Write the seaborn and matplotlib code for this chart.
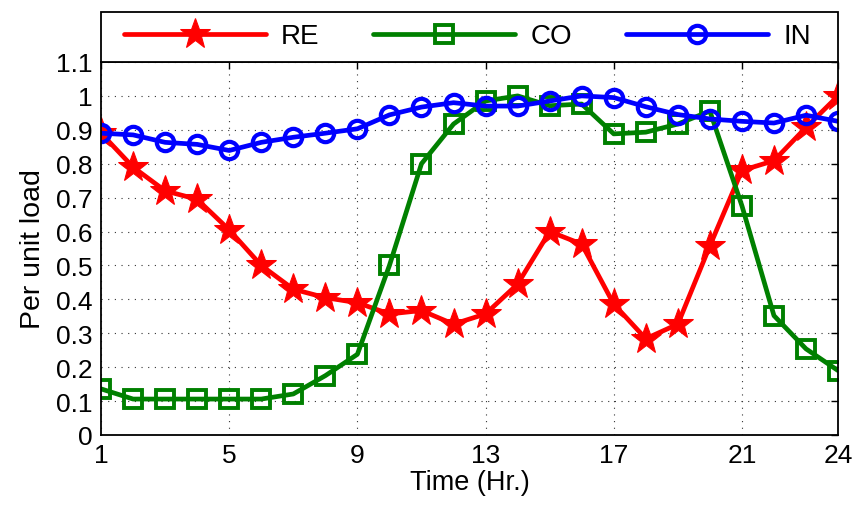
import numpy as np
import pandas as pd
import seaborn as sns
import matplotlib
matplotlib.use("Agg")
import matplotlib.pyplot as plt
from matplotlib import font_manager
from matplotlib.patches import Rectangle

hours = list(range(1, 25))
re_load = [0.89, 0.79, 0.72, 0.695, 0.605, 0.50, 0.43, 0.405, 0.39, 0.357, 0.367, 0.327,
           0.357, 0.445, 0.60, 0.563, 0.386, 0.284, 0.327, 0.558, 0.78, 0.809, 0.907, 1.0]
co_load = [0.136, 0.106, 0.106, 0.106, 0.106, 0.106, 0.121, 0.175, 0.238, 0.50, 0.80, 0.917,
           0.985, 1.0, 0.971, 0.976, 0.888, 0.893, 0.917, 0.955, 0.676, 0.352, 0.254, 0.19]
in_load = [0.89, 0.885, 0.863, 0.857, 0.839, 0.863, 0.878, 0.89, 0.903, 0.944, 0.967, 0.98,
           0.97, 0.97, 0.985, 1.0, 0.995, 0.968, 0.945, 0.932, 0.925, 0.92, 0.943, 0.925]
xticks = [1, 5, 9, 13, 17, 21, 24]
yticks = [round(0.1 * i, 1) for i in range(12)]
ytick_labels = ["0", "0.1", "0.2", "0.3", "0.4", "0.5", "0.6", "0.7", "0.8", "0.9", "1", "1.1"]

sns.set_style("white")
names = {f.name for f in font_manager.fontManager.ttflist}
narrow = "Liberation Sans Narrow" if "Liberation Sans Narrow" in names else "Liberation Sans"
plt.rcParams["font.family"] = [narrow, "DejaVu Sans"]
plt.rcParams["text.color"] = "black"
plt.rcParams["axes.labelcolor"] = "black"

fig = plt.figure(figsize=(8.57, 5.10), dpi=100)
ax = fig.add_axes([0.1179, 0.1451, 0.860, 0.7314])

df = pd.DataFrame({"hour": hours, "RE": re_load, "CO": co_load, "IN": in_load})
sns.lineplot(data=df, x="hour", y="RE", ax=ax, color="red", lw=3.4, marker="*",
             markersize=23, markeredgecolor="red", label="RE")
sns.lineplot(data=df, x="hour", y="CO", ax=ax, color="green", lw=3.4, marker="s",
             markersize=13, markerfacecolor="none", markeredgecolor="green",
             markeredgewidth=2.8, label="CO")
sns.lineplot(data=df, x="hour", y="IN", ax=ax, color="blue", lw=3.4, marker="o",
             markersize=12.5, markerfacecolor="none", markeredgecolor="blue",
             markeredgewidth=3, label="IN")

ax.set_xlim(1, 24)
ax.set_ylim(0, 1.1)
ax.set_xticks(xticks)
ax.set_yticks(yticks)
ax.set_yticklabels(ytick_labels)
ax.tick_params(direction="in", length=5, width=1, top=True, right=True,
               labelsize=19, pad=6, colors="black")
ax.grid(True, color="#333333", linestyle=(0, (1, 5)), linewidth=0.8)
for s in ax.spines.values():
    s.set_color("black")
    s.set_linewidth(1.3)

ax.set_xlabel("Time (Hr.)", fontsize=19.5, labelpad=1, color="black")
ax.set_ylabel("Per unit load", fontsize=20.5, labelpad=7, color="black",
              family=["Liberation Sans", "DejaVu Sans"])

# legend box drawn separately so the entries can sit inset like the original
ax.add_patch(Rectangle((0, 1.0), 1, 0.134, transform=ax.transAxes, facecolor="white",
                       edgecolor="black", lw=1.3, clip_on=False, zorder=5))
leg = ax.legend(loc="center", bbox_to_anchor=(0.497, 1.069), ncol=3, fontsize=20,
                handlelength=5.1, handletextpad=0.55, numpoints=1, frameon=False,
                borderaxespad=0, borderpad=0, columnspacing=1.95)
leg.set_zorder(6)
for t in leg.get_texts():
    t.set_family(["Liberation Sans", "DejaVu Sans"])
    t.set_color("black")

fig.savefig("out.png", dpi=100)
